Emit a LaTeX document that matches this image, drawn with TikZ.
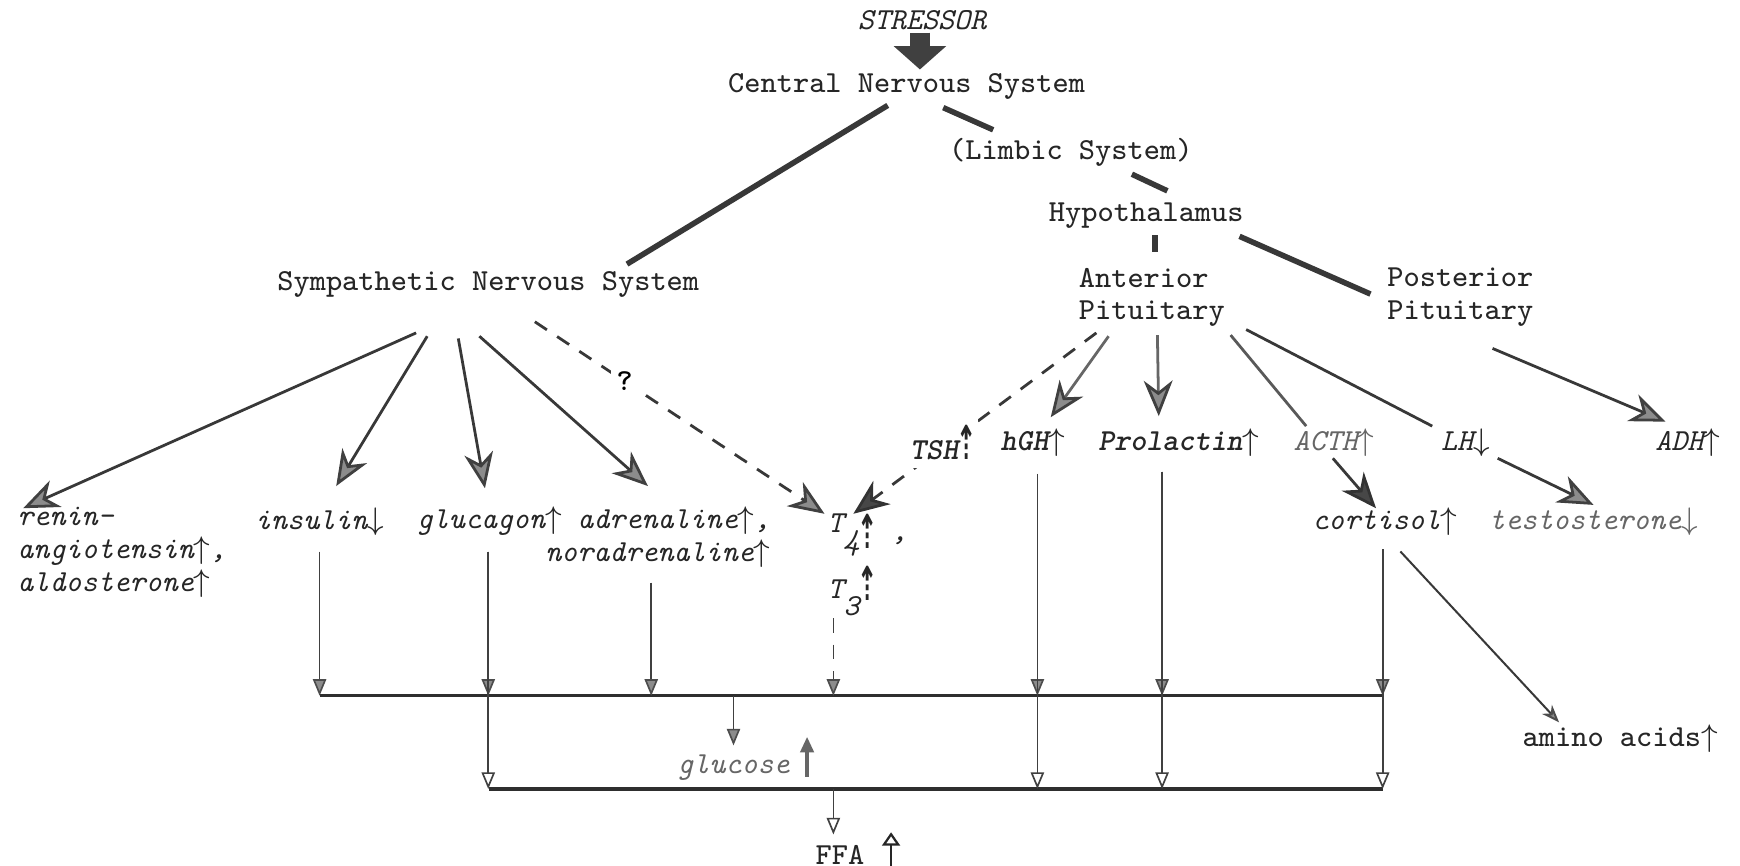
\documentclass[tikz,border=0pt]{standalone}
\usepackage{fontspec}
\newfontfamily\dashfont{DejaVu Sans}
\usetikzlibrary{arrows.meta}

\def\fs{\ttfamily\fontsize{7.83pt}{8.4pt}\selectfont}
\newcommand{\incr}{$\uparrow$}
\newcommand{\decr}{$\downarrow$}
\newcommand{\dotup}{\makebox[0.525em]{\scalebox{0.62}[1.2]{\dashfont\bfseries\fontsize{10pt}{8pt}\selectfont ⇡}}}

\begin{document}
\begin{tikzpicture}[x=0.01cm,y=-0.01cm,
  txt/.style={inner sep=0pt,font=\fs,text=black!85},
  hor/.style={inner sep=0pt,font=\fs\itshape,text=black!85},
  trunk/.style={line width=0.05cm,draw=black!78},
  big/.style={line width=0.025cm,draw=black!78,
    -{Stealth[length=0.32cm,width=0.26cm,inset=0.1cm,color=black!75,fill=black!45]}},
  dark/.style={big,-{Stealth[length=0.32cm,width=0.26cm,inset=0.1cm,color=black!80,fill=black!72]}},
  dsh/.style={dash pattern=on 0.13cm off 0.11cm},
  bar/.style={line width=0.03cm,draw=black!82},
  feed/.style={line width=0.015cm,draw=black!75,
    -{Triangle[length=0.15cm,width=0.12cm,color=black!70,fill=black!45]}},
  feedopen/.style={line width=0.015cm,draw=black!75,
    -{Triangle[length=0.15cm,width=0.12cm,color=black!75,fill=white]}}
]
\fill[white] (0,0) rectangle (1568,780);
\useasboundingbox (0,0) rectangle (1568,780);

\node[hor] (stressor) at (831,18) {STRESSOR};
\node[txt] (cns) at (817,78) {Central Nervous System};
\node[txt] (limbic) at (965,137) {(Limbic System)};
\node[txt] (hypo) at (1033,194) {Hypothalamus};
\node[txt,align=left] (antpit) at (1038,268) {Anterior\\Pituitary};
\node[txt,align=left] (postpit) at (1316,268) {Posterior\\Pituitary};
\node[txt] (sns) at (440,256) {Sympathetic Nervous System};

\node[hor,anchor=west] (hgh) at (901,399) {\bfseries hGH\incr};
\node[hor,anchor=west] (prl) at (989,399) {\bfseries Prolactin\incr};
\node[hor,anchor=west,text=black!60] (acth) at (1165,399) {ACTH\incr};
\node[hor,anchor=west] (lh) at (1298,399) {LH\decr};
\node[hor,anchor=west] (adh) at (1491,399) {ADH\incr};

\node[hor,anchor=west,align=left] (renin) at (15,498) {renin-\\angiotensin\incr,\\aldosterone\incr};
\node[hor] (insulin) at (288,470) {insulin\decr};
\node[hor] (glucagon) at (441,470) {glucagon\incr};
\node[hor,anchor=east,align=right] (adren) at (695,484) {adrenaline\incr,\\noradrenaline\incr};
\node[hor,anchor=base west] (t4) at (745,480) {T\raisebox{-1.3ex}{4}\raisebox{-1.2ex}{\dotup}\ \raisebox{-0.6ex}{,}};
\node[hor,anchor=base west] (t3) at (745,539) {T\raisebox{-1.3ex}{3}\raisebox{-0.2ex}{\dotup}};
\node[hor] (cortisol) at (1248,470) {cortisol\incr};
\node[hor,text=black!60] (testo) at (1436,470) {testosterone\decr};
\node[txt] (amino) at (1460,666) {amino acids\incr};
\node[hor,text=black!60] (glucose) at (661,692) {glucose};
\node[txt] (ffa) at (757,770) {FFA};

\draw[line width=0.18cm,draw=black!75,-{Triangle[length=0.21cm,width=0.46cm,color=black!75]}]
  ([shift={(-2,2)}]stressor.south) -- ([shift={(12,-3)}]cns.north);

\draw[trunk] ([shift={(-17,17)}]cns.center) -- ([shift={(125,-18)}]sns.center);
\draw[trunk] ([shift={(33,19)}]cns.center) -- ([shift={(-70,-20)}]limbic.center);
\draw[trunk] ([shift={(55,20)}]limbic.center) -- ([shift={(19,-22)}]hypo.center);
\draw[trunk] ([shift={(8,18)}]hypo.center) -- ([shift={(3,-41)}]antpit.center);
\draw[trunk] ([shift={(84,19)}]hypo.center) -- ([shift={(-81,-3)}]postpit.center);

\draw[big] ([shift={(-65,44)}]sns.center) -- ([shift={(-89,-40)}]renin.center);
\draw[big] ([shift={(-55,47)}]sns.center) -- ([shift={(15,-32)}]insulin.center);
\draw[big] ([shift={(-27,49)}]sns.center) -- ([shift={(-4,-30)}]glucagon.center);
\draw[big] ([shift={(-8,47)}]sns.center) -- ([shift={(-9,-46)}]adren.center);
\draw[big,dsh] ([shift={(42,34)}]sns.center) -- node[pos=0.31,fill=white,inner sep=1.5pt,font=\fs\bfseries] (q) {?} ([shift={(-2,-17)}]t4.base west);

\draw[dark,dsh] ([shift={(-50,32)}]antpit.center) -- ([shift={(24,-17)}]t4.base west);
\node[hor,anchor=west,fill=white,inner xsep=1pt,inner ysep=2pt] (tsh) at (816,399) {\bfseries TSH\dotup};
\draw[big,draw=black!60] ([shift={(-39,35)}]antpit.center) -- ([shift={(16,-23)}]hgh.center);
\draw[big,draw=black!60] ([shift={(5,34)}]antpit.center) -- ([shift={(-18,-24)}]prl.center);
\draw[line width=0.025cm,draw=black!65] ([shift={(71,34)}]antpit.center) -- ([shift={(-25,-15)}]acth.center);
\draw[line width=0.025cm,draw=black!78] ([shift={(85,29)}]antpit.center) -- ([shift={(-30,-15)}]lh.center);
\draw[big] ([shift={(29,46)}]postpit.center) -- ([shift={(-20,-19)}]adh.center);
\draw[dark] ([shift={(-1,14)}]acth.center) -- ([shift={(-8,-12)}]cortisol.center);
\draw[big] ([shift={(29,14)}]lh.center) -- ([shift={(0,-15)}]testo.center);
\draw[line width=0.018cm,draw=black!78,-{Stealth[length=0.16cm,width=0.12cm,inset=0.05cm,color=black!70,fill=black!45]}]
  ([shift={(14,27)}]cortisol.center) -- ([shift={(-55,-15)}]amino.center);

\coordinate (bar1) at (0,627);
\coordinate (bar2) at (0,711);
\draw[bar] (insulin |- bar1) -- ([xshift=-0.02cm]cortisol |- bar1);
\draw[bar] (glucagon |- bar2) -- ([xshift=-0.02cm]cortisol |- bar2);

\foreach \src/\dx/\dy in {insulin/0/27,adren/-6/41,glucagon/-1/27,hgh/4/28,prl/-15/26,cortisol/-2/25} {
  \coordinate (s) at ([shift={(\dx,\dy)}]\src.center);
  \draw[feed] (s) -- (s |- bar1);
}
\foreach \src/\dx/\dy in {glucagon/-1/27,hgh/4/28,prl/-15/26,cortisol/-2/25} {
  \coordinate (s) at ([shift={(\dx,\dy)}]\src.center);
  \draw[feedopen] (s) -- (s |- bar2);
}
\coordinate (t3out) at ([shift={(6,18)}]t3.base west);
\draw[feed,dsh] (t3out) -- (t3out |- bar1);

\draw[feed] (glucose.north |- bar1) -- ([shift={(0,-8)}]glucose.north);
\draw[line width=0.03cm,draw=black!60,-{Triangle[length=0.14cm,width=0.12cm,color=black!60]}]
  ([shift={(15,8)}]glucose.east) -- ([shift={(15,-28)}]glucose.east);
\coordinate (ffain) at ([shift={(-6,-18)}]ffa.center);
\draw[feedopen] (ffain |- bar2) -- (ffain);
\draw[line width=0.02cm,draw=black!85,-{Triangle[open,length=0.12cm,width=0.16cm,color=black!85]}]
  ([shift={(46,13)}]ffa.center) -- ([shift={(46,-20)}]ffa.center);
\end{tikzpicture}
\end{document}
